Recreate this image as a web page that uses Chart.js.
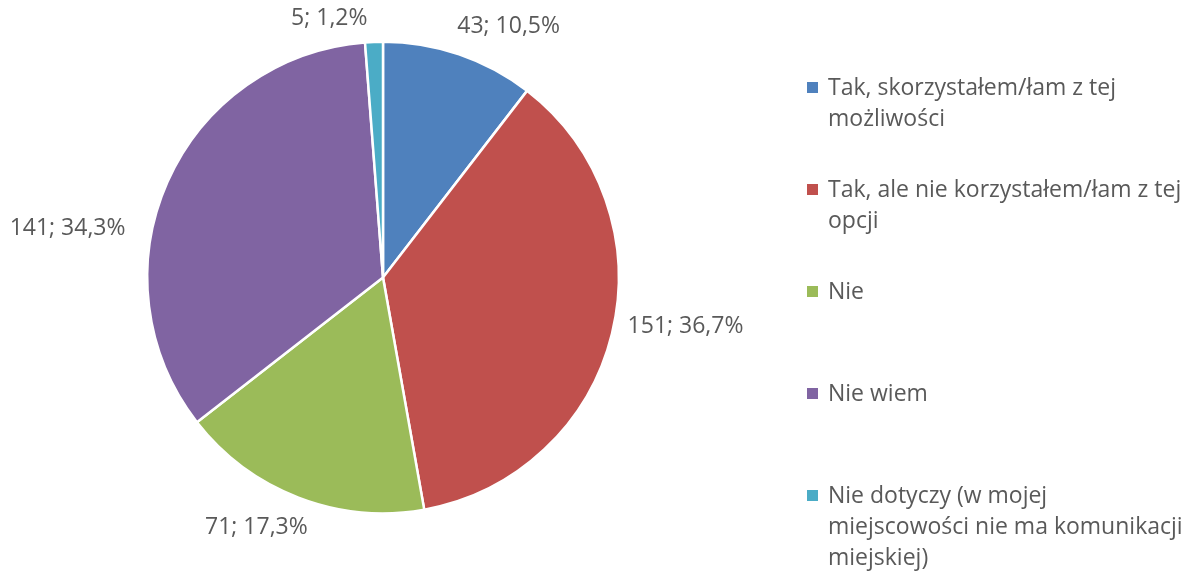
<!DOCTYPE html>
<html>
<head>
<meta charset="utf-8">
<script src="https://cdn.jsdelivr.net/npm/chart.js@4/dist/chart.umd.min.js"></script>
<style>
  html, body { margin: 0; padding: 0; background: #fff; }
  #wrap { width: 1199px; height: 575px; }
</style>
</head>
<body>
<div id="wrap"><canvas id="myChart"></canvas></div>
<script>
// answers (legend text, pre-wrapped)
var categories = [
  ["Tak, skorzystałem/łam z tej", "możliwości"],
  ["Tak, ale nie korzystałem/łam z tej", "opcji"],
  ["Nie"],
  ["Nie wiem"],
  ["Nie dotyczy (w mojej", "miejscowości nie ma komunikacji", "miejskiej)"]
];
var counts = [43, 151, 71, 141, 5];
var colors = ["#4F81BD", "#C0504D", "#9BBB59", "#8064A2", "#4BACC6"];

var FONT = '23px "Open Sans"';
var TEXT = "#595959";

// value labels outside the slices: "count; percent"
var outsideLabels = {
  id: "outsideLabels",
  afterDatasetsDraw: function (chart, args, opts) {
    var ctx = chart.ctx;
    var data = chart.data.datasets[0].data;
    var total = data.reduce(function (a, b) { return a + b; }, 0);
    ctx.save();
    ctx.font = FONT;
    ctx.fillStyle = TEXT;
    ctx.textAlign = "center";
    ctx.textBaseline = "middle";
    chart.getDatasetMeta(0).data.forEach(function (arc, i) {
      var mid = (arc.startAngle + arc.endAngle) / 2;
      var d = arc.outerRadius + opts.gap;
      var px = arc.x + d * Math.cos(mid);
      var py = arc.y + d * Math.sin(mid);
      var txt = data[i] + "; " + (data[i] / total * 100).toFixed(1).replace(".", ",") + "%";
      var w = ctx.measureText(txt).width;
      var h = 24;
      var cx = Math.cos(mid) >= 0 ? px + w / 2 : px - w / 2;
      var cy = Math.sin(mid) < 0 ? py - h / 2 : py + h / 2;
      var n = opts.nudge[i] || [0, 0];
      ctx.fillText(txt, cx + n[0], cy + n[1]);
    });
    ctx.restore();
  }
};

// legend on the right, one fixed slot per item
var sideLegend = {
  id: "sideLegend",
  afterDraw: function (chart, args, opts) {
    var ctx = chart.ctx;
    ctx.save();
    ctx.font = FONT;
    ctx.textAlign = "left";
    ctx.textBaseline = "middle";
    chart.data.labels.forEach(function (lines, i) {
      var y = opts.top + i * opts.step;
      ctx.fillStyle = colors[i];
      ctx.fillRect(opts.x, y - 6, 11, 11);
      ctx.fillStyle = TEXT;
      lines.forEach(function (line, j) {
        ctx.fillText(line, opts.x + 21, y + j * opts.lineHeight);
      });
    });
    ctx.restore();
  }
};

var myPie = new Chart(document.getElementById("myChart").getContext("2d"), {
  type: "pie",
  data: {
    labels: categories,
    datasets: [{
      data: counts,
      backgroundColor: colors,
      borderColor: "#ffffff",
      borderWidth: 2.5
    }]
  },
  options: {
    responsive: true,
    maintainAspectRatio: false,
    animation: false,
    layout: { padding: { left: 146, right: 579, top: 40, bottom: 60 } },
    plugins: {
      legend: { display: false },
      tooltip: { enabled: false },
      outsideLabels: {
        gap: 13,
        nudge: [[-6, -4], [3, -22], [14, 6], [-30, 64], [-6, 2]]
      },
      sideLegend: { x: 807, top: 88, step: 102, lineHeight: 31 }
    }
  },
  plugins: [outsideLabels, sideLegend]
});
</script>
</body>
</html>
